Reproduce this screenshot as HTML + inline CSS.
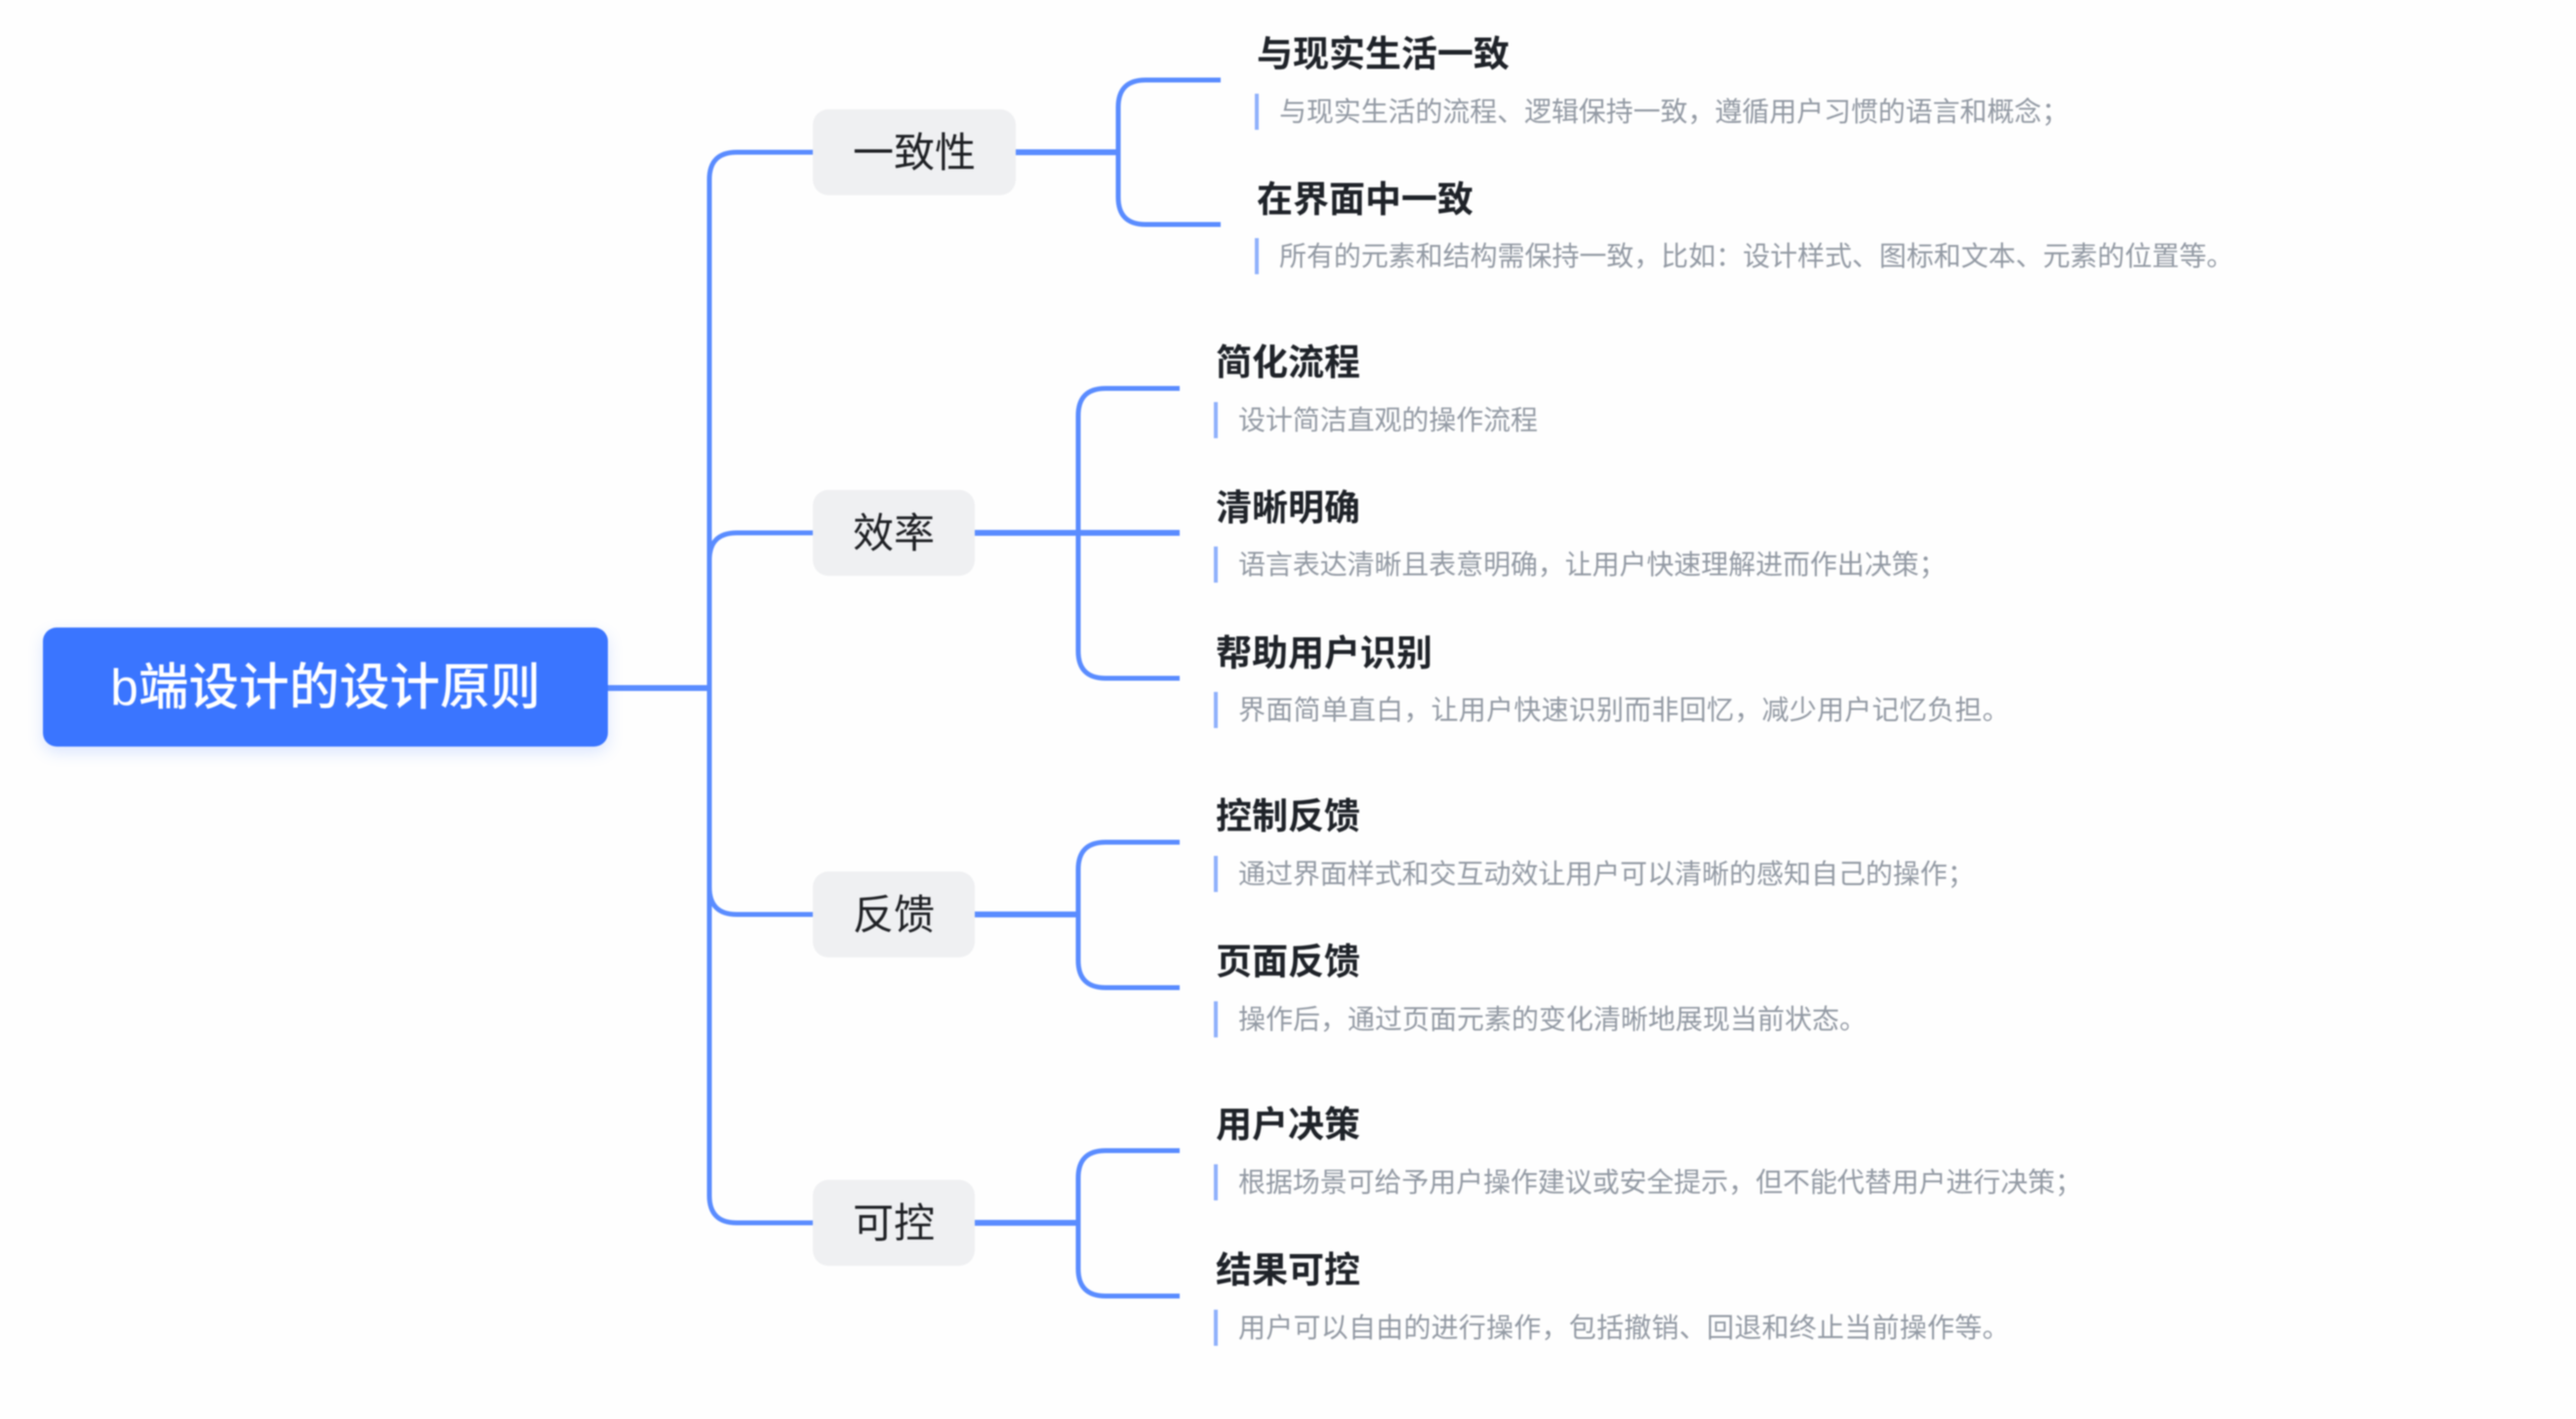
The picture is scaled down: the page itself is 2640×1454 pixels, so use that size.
<!DOCTYPE html>
<html lang="zh-CN">
<head>
<meta charset="utf-8">
<title>b端设计的设计原则</title>
<style>
html,body{margin:0;padding:0;background:#fefefe;}
#c{position:relative;width:2640px;height:1454px;overflow:hidden;background:#fefefe;font-family:"Liberation Sans","Noto Sans CJK SC",sans-serif;filter:blur(0.7px);}
svg{position:absolute;left:0;top:0;}
.root{position:absolute;left:44px;top:643px;width:579px;height:122px;border-radius:14px;background:#3a75ff;color:#fff;font-size:51.5px;font-weight:500;line-height:122px;text-align:center;box-shadow:0 6px 16px rgba(58,117,255,.18);white-space:nowrap;}
.n{position:absolute;left:833px;height:88px;border-radius:16px;background:#eff0f2;color:#1f2125;font-size:42px;font-weight:400;line-height:90px;text-align:center;white-space:nowrap;}
.t{position:absolute;font-size:37px;font-weight:700;line-height:50px;height:50px;color:#1f2329;white-space:nowrap;}
.d{position:absolute;font-size:28px;line-height:40px;height:40px;color:#939aa4;white-space:nowrap;}
.b{position:absolute;width:4px;height:37px;background:#8fb0fb;}
</style>
</head>
<body>
<div id="c">
<svg width="2640" height="1454" viewBox="0 0 2640 1454" fill="none" stroke="#5a8cff" stroke-width="5">
  <path d="M623 705H727" stroke-width="6"/>
  <path d="M833 156H755Q727 156 727 184V1225Q727 1253 755 1253H833"/>
  <path d="M833 546H755Q727 546 727 574"/>
  <path d="M833 937H755Q727 937 727 909"/>
  <path d="M1041 156H1146" stroke-width="6"/>
  <path d="M1251 82H1174Q1146 82 1146 110V202Q1146 230 1174 230H1251"/>
  <path d="M999 546H1209" stroke-width="6"/>
  <path d="M1209 398H1133Q1105 398 1105 426V667Q1105 695 1133 695H1209"/>
  <path d="M999 937H1105" stroke-width="6"/>
  <path d="M1209 863H1133Q1105 863 1105 891V984Q1105 1012 1133 1012H1209"/>
  <path d="M999 1253H1105" stroke-width="6"/>
  <path d="M1209 1179H1133Q1105 1179 1105 1207V1300Q1105 1328 1133 1328H1209"/>
</svg>

<div class="root">b端设计的设计原则</div>
<div class="n" style="top:112px;width:208px;">一致性</div>
<div class="n" style="top:502px;width:166px;">效率</div>
<div class="n" style="top:893px;width:166px;">反馈</div>
<div class="n" style="top:1209px;width:166px;">可控</div>

<div class="t" style="left:1288px;top:31px;">与现实生活一致</div>
<div class="b" style="left:1286px;top:96px;"></div>
<div class="d" style="left:1311px;top:95px;letter-spacing:-0.1px;">与现实生活的流程、逻辑保持一致，遵循用户习惯的语言和概念；</div>

<div class="t" style="left:1288px;top:180px;">在界面中一致</div>
<div class="b" style="left:1286px;top:244px;"></div>
<div class="d" style="left:1311px;top:243px;letter-spacing:-0.05px;">所有的元素和结构需保持一致，比如：设计样式、图标和文本、元素的位置等。</div>

<div class="t" style="left:1246px;top:347px;">简化流程</div>
<div class="b" style="left:1244px;top:412px;"></div>
<div class="d" style="left:1269px;top:411px;letter-spacing:-0.1px;">设计简洁直观的操作流程</div>

<div class="t" style="left:1246px;top:496px;">清晰明确</div>
<div class="b" style="left:1244px;top:560px;"></div>
<div class="d" style="left:1269px;top:559px;letter-spacing:-0.1px;">语言表达清晰且表意明确，让用户快速理解进而作出决策；</div>

<div class="t" style="left:1246px;top:645px;">帮助用户识别</div>
<div class="b" style="left:1244px;top:709px;"></div>
<div class="d" style="left:1269px;top:708px;letter-spacing:0.24px;">界面简单直白，让用户快速识别而非回忆，减少用户记忆负担。</div>

<div class="t" style="left:1246px;top:812px;">控制反馈</div>
<div class="b" style="left:1244px;top:877px;"></div>
<div class="d" style="left:1269px;top:876px;letter-spacing:-0.05px;">通过界面样式和交互动效让用户可以清晰的感知自己的操作；</div>

<div class="t" style="left:1246px;top:961px;">页面反馈</div>
<div class="b" style="left:1244px;top:1026px;"></div>
<div class="d" style="left:1269px;top:1025px;">操作后，通过页面元素的变化清晰地展现当前状态。</div>

<div class="t" style="left:1246px;top:1128px;">用户决策</div>
<div class="b" style="left:1244px;top:1193px;"></div>
<div class="d" style="left:1269px;top:1192px;letter-spacing:-0.1px;">根据场景可给予用户操作建议或安全提示，但不能代替用户进行决策；</div>

<div class="t" style="left:1246px;top:1277px;">结果可控</div>
<div class="b" style="left:1244px;top:1342px;"></div>
<div class="d" style="left:1269px;top:1341px;letter-spacing:0.24px;">用户可以自由的进行操作，包括撤销、回退和终止当前操作等。</div>
</div>
</body>
</html>
